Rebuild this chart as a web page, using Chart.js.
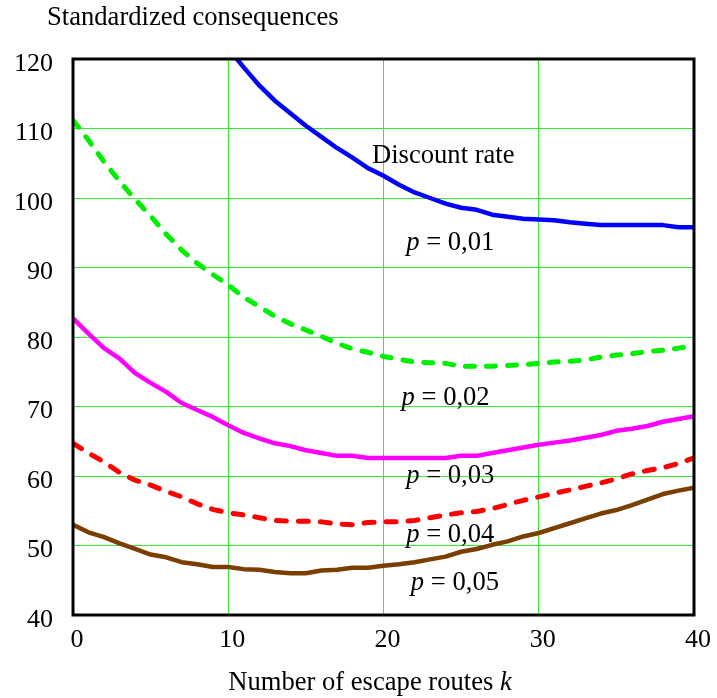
<!DOCTYPE html>
<html lang="en">
<head>
<meta charset="UTF-8">
<title>Standardized consequences</title>
<style>
  body { margin: 0; background: #fff; }
  #wrap { width: 717px; height: 698px; }
</style>
</head>
<body>
<div id="wrap"><canvas id="grafico" width="717" height="698"></canvas></div>
<script src="https://cdn.jsdelivr.net/npm/chart.js"></script>
<script>
// number of escape routes k
const ks = [0,1,2,3,4,5,6,7,8,9,10,11,12,13,14,15,16,17,18,19,20,
            21,22,23,24,25,26,27,28,29,30,31,32,33,34,35,36,37,38,39,40];

// standardized consequences per discount rate
const p01 = [null,null,null,null,null,null,null,null,null,null,
  121.5,118.8,116.2,114.0,112.2,110.4,108.8,107.2,105.8,104.3,103.2,
  101.9,100.8,100.0,99.2,98.6,98.3,97.6,97.3,97.0,96.9,
  96.8,96.5,96.3,96.1,96.1,96.1,96.1,96.1,95.8,95.8];
const p02 = [111.2,108.3,105.2,102.4,99.8,97.4,94.8,92.5,90.6,89.0,87.5,
  85.7,84.4,83.0,81.9,81.0,80.1,79.1,78.3,77.8,77.2,
  76.8,76.4,76.3,76.2,75.8,75.8,75.8,75.9,76.0,76.2,
  76.4,76.5,76.7,77.1,77.4,77.6,77.9,78.1,78.4,78.7];
const p03 = [82.7,80.5,78.4,76.9,74.8,73.4,72.1,70.5,69.5,68.5,67.3,
  66.2,65.4,64.7,64.3,63.7,63.3,62.9,62.9,62.6,62.6,
  62.6,62.6,62.6,62.6,62.9,62.9,63.3,63.7,64.1,64.5,
  64.8,65.1,65.5,65.9,66.5,66.8,67.2,67.8,68.2,68.6];
const p04 = [64.7,63.3,62.0,60.5,59.4,58.7,57.8,57.0,56.0,55.2,54.7,
  54.4,54.0,53.6,53.5,53.5,53.4,53.1,53.0,53.3,53.4,
  53.4,53.6,54.0,54.4,54.7,54.9,55.3,55.9,56.5,57.0,
  57.5,58.0,58.5,59.0,59.6,60.3,60.8,61.2,61.8,62.6];
const p05 = [53.0,51.9,51.2,50.3,49.5,48.7,48.3,47.6,47.3,46.9,46.9,
  46.6,46.5,46.2,46.0,46.0,46.4,46.5,46.8,46.8,47.1,
  47.3,47.6,48.0,48.4,49.1,49.5,50.1,50.6,51.3,51.8,
  52.5,53.2,53.9,54.6,55.1,55.8,56.6,57.4,57.9,58.3];

const yTicks = [40, 50, 60, 70, 80, 90, 100, 110, 120];
const xTicks = [0, 10, 20, 30, 40];

// text labels inside the plot: [text, k, value]
const rotulos = [
  ['Discount rate', 23.85, 105.0],
  ['0,01', 24.3, 92.5],
  ['0,02', 24.0, 70.2],
  ['0,03', 24.3, 59.0],
  ['0,04', 24.3, 50.5],
  ['0,05', 24.6, 43.6]
];

const serif = '"Liberation Serif", "Times New Roman", serif';
const tam = '26.6px ';

function pontos(arr) {
  return ks.map((k, i) => ({ x: k, y: arr[i] }));
}

function serie(arr, cor, dash) {
  return {
    data: pontos(arr),
    borderColor: cor,
    borderWidth: dash ? 5 : 4.5,
    borderDash: dash || [],
    borderCapStyle: dash ? 'round' : 'butt',
    borderJoinStyle: 'round',
    pointRadius: 0,
    tension: 0,
    fill: false,
    clip: 0
  };
}

// desenha moldura, titulos e rotulos
const extras = {
  id: 'extras',
  afterDraw(chart) {
    const c = chart.ctx;
    const a = chart.chartArea;
    const sx = chart.scales.x, sy = chart.scales.y;
    c.save();
    c.strokeStyle = '#000';
    c.lineWidth = 3;
    c.strokeRect(a.left, a.top, a.right - a.left, a.bottom - a.top);

    c.fillStyle = '#000';
    c.textBaseline = 'alphabetic';
    c.textAlign = 'left';
    c.font = tam + serif;
    c.fillText('Standardized consequences', 47, 25);

    // titulo do eixo x com k em italico
    const t1 = 'Number of escape routes ';
    const w1 = c.measureText(t1).width;
    c.font = 'italic ' + tam + serif;
    const w2 = c.measureText('k').width;
    const x0 = 370 - (w1 + w2) / 2;
    c.font = tam + serif;
    c.fillText(t1, x0, 690);
    c.font = 'italic ' + tam + serif;
    c.fillText('k', x0 + w1, 690);

    rotulos.forEach(([txt, k, v]) => {
      const px = sx.getPixelForValue(k);
      const py = sy.getPixelForValue(v);
      if (txt === 'Discount rate') {
        c.font = tam + serif;
        const w = c.measureText(txt).width;
        c.fillText(txt, px - w / 2, py);
        return;
      }
      c.font = 'italic ' + tam + serif;
      const wp = c.measureText('p').width;
      c.font = tam + serif;
      const rest = ' = ' + txt;
      const wr = c.measureText(rest).width;
      const xs = px - (wp + wr) / 2;
      c.font = 'italic ' + tam + serif;
      c.fillText('p', xs, py);
      c.font = tam + serif;
      c.fillText(rest, xs + wp, py);
    });
    c.restore();
  }
};

const gridCor = '#33ee33';

new Chart(document.getElementById('grafico'), {
  type: 'line',
  data: {
    datasets: [
      serie(p01, '#0000ff'),
      serie(p02, '#00ee00', [9, 12]),
      serie(p03, '#ff00ff'),
      serie(p04, '#ff0000', [10, 12]),
      serie(p05, '#7a3f00')
    ]
  },
  options: {
    responsive: false,
    animation: false,
    layout: { padding: { top: 59, right: 15, left: 0, bottom: 0 } },
    plugins: {
      legend: { display: false },
      tooltip: { enabled: false }
    },
    scales: {
      x: {
        type: 'linear',
        min: 0,
        max: 40,
        afterFit: s => { s.height = 83; },
        afterBuildTicks: s => { s.ticks = xTicks.map(v => ({ value: v })); },
        grid: { color: gridCor, lineWidth: 1, drawTicks: false },
        border: { display: false },
        ticks: {
          padding: 10,
          labelOffset: 4,
          color: '#000',
          font: { family: serif, size: 26 }
        }
      },
      y: {
        min: 40,
        max: 120,
        afterFit: s => { s.width = 73; },
        afterBuildTicks: s => { s.ticks = yTicks.map(v => ({ value: v })); },
        grid: { color: gridCor, lineWidth: 1, drawTicks: false },
        border: { display: false },
        ticks: {
          padding: 20,
          labelOffset: 5,
          color: '#000',
          font: { family: serif, size: 26 }
        }
      }
    }
  },
  plugins: [extras]
});
</script>
</body>
</html>
